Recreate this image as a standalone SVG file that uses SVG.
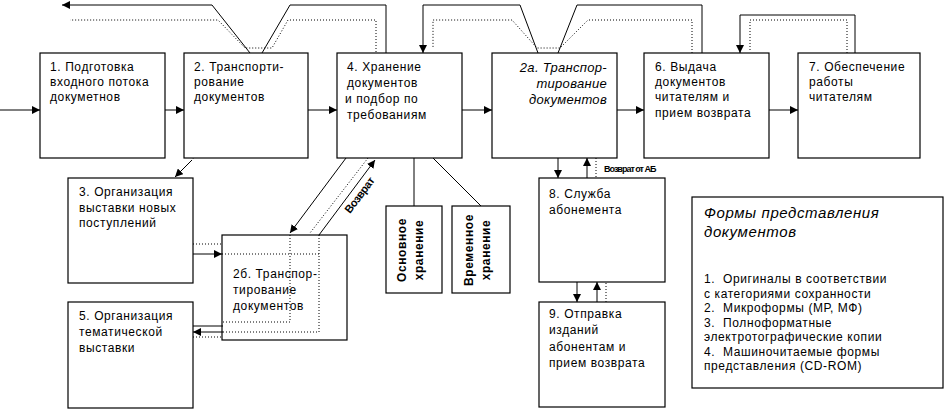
<svg xmlns="http://www.w3.org/2000/svg" width="945" height="411" viewBox="0 0 945 411">
<defs>
<marker id="a" viewBox="0 0 10 10" refX="10" refY="5" markerWidth="8" markerHeight="8" markerUnits="userSpaceOnUse" orient="auto"><path d="M0,0L10,5L0,10z" fill="#000"/></marker>
<style>
.b{fill:#fff;stroke:#000;stroke-width:1.2}
.t{font-family:"Liberation Sans",Arial,sans-serif;font-size:12px;letter-spacing:0.6px;fill:#000}
.i{font-style:italic}
.it{font-style:italic;font-size:13px;letter-spacing:0.3px}
.ft{font-style:italic;font-size:15px;letter-spacing:0.6px}
.bd{font-weight:bold}
.ab{font-weight:bold;font-size:9px;letter-spacing:-1px}
.vz{font-weight:bold;font-size:11px;letter-spacing:-0.5px}
.pre{white-space:pre}
.s{fill:none;stroke:#000;stroke-width:1}
.d{fill:none;stroke:#000;stroke-width:1;stroke-dasharray:1,2}
</style>
</defs>
<rect width="945" height="411" fill="#fff"/>
<g id="connectors">
<path class="s" d="M0,110H40" marker-end="url(#a)"/>
<path class="s" d="M165,110H184" marker-end="url(#a)"/>
<path class="d" d="M184,110H308"/>
<path class="s" d="M308,110H337" marker-end="url(#a)"/>
<path class="s" d="M462,110H492" marker-end="url(#a)"/>
<path class="d" d="M492,110H617"/>
<path class="s" d="M617,110H644" marker-end="url(#a)"/>
<path class="s" d="M769,110H798" marker-end="url(#a)"/>
<path class="s" d="M386,53V5H290L262,53"/>
<path class="s" d="M250,53L212,5H62" marker-end="url(#a)"/>
<path class="d" d="M376,58V20H288L272,48H245L218,20H70"/>
<path class="s" d="M702,53V5H577L558,53"/>
<path class="s" d="M538,53L520,5H423V53" marker-end="url(#a)"/>
<path class="d" d="M692,56V20H588L560,48H537L512,20H433V48"/>
<path class="s" d="M855,53V15H740V53" marker-end="url(#a)"/>
<path class="d" d="M847,53V20H750V50"/>
<path class="d" d="M230,110L192,160"/>
<path class="s" d="M192,160L175,177" marker-end="url(#a)"/>
<path class="s" d="M346,158L290,233" marker-end="url(#a)"/>
<path class="d" d="M368,158L310,233"/>
<path class="s" d="M319,235L375,160" marker-end="url(#a)"/>
<path class="s" d="M414,158V206M433,158L481,206"/>
<path class="d" d="M290,235V322H223"/>
<path class="d" d="M319,235V332H223"/>
<path class="d" d="M193,244H222M222,254H319M193,337H222"/>
<path class="s" d="M193,254H222" marker-end="url(#a)"/>
<path class="s" d="M193,326H223"/>
<path class="s" d="M223,332H193" marker-end="url(#a)"/>
<path class="s" d="M558,158V178" marker-end="url(#a)"/>
<path class="s" d="M587,178V158" marker-end="url(#a)"/>
<path class="d" d="M596,155V182"/>
<path class="s" d="M577,282V302" marker-end="url(#a)"/>
<path class="s" d="M597,302V282" marker-end="url(#a)"/>
<path class="d" d="M606,280V306"/>
<text class="t ab" x="604" y="172">Возврат от АБ</text>
<text class="t vz" transform="translate(350,214) rotate(-53)">Возврат</text>
</g>
<g id="n1"><rect class="b" x="40" y="53" width="125" height="105"/><text class="t" x="50" y="71">1. Подготовка</text><text class="t" x="50" y="86">входного потока</text><text class="t" x="50" y="101">докуметнов</text></g>
<g id="n2"><rect class="b" x="184" y="53" width="124" height="105"/><text class="t" x="194" y="71">2. Транспорти-</text><text class="t" x="194" y="86">рование</text><text class="t" x="194" y="101">документов</text></g>
<g id="n4"><rect class="b" x="337" y="53" width="125" height="105"/><text class="t" x="347" y="71">4. Хранение</text><text class="t" x="347" y="87">документов</text><text class="t" x="345" y="103">и подбор по</text><text class="t" x="347" y="119">требованиям</text></g>
<g id="n2a"><rect class="b" x="492" y="53" width="125" height="105"/><text class="t it" text-anchor="end" x="607" y="72">2а. Транспор-</text><text class="t it" text-anchor="end" x="607" y="88">тирование</text><text class="t it" text-anchor="end" x="607" y="104">документов</text></g>
<g id="n6"><rect class="b" x="644" y="53" width="125" height="105"/><text class="t" x="655" y="71">6. Выдача</text><text class="t" x="655" y="86">документов</text><text class="t" x="655" y="101">читателям и</text><text class="t" x="655" y="117">прием возврата</text></g>
<g id="n7"><rect class="b" x="798" y="53" width="122" height="105"/><text class="t" x="809" y="71">7. Обеспечение</text><text class="t" x="809" y="86">работы</text><text class="t" x="809" y="101">читателям</text></g>
<g id="n3"><rect class="b" x="68" y="178" width="125" height="105"/><text class="t" x="79" y="196">3. Организация</text><text class="t" x="79" y="212">выставки новых</text><text class="t" x="79" y="227">поступлений</text></g>
<g id="n5"><rect class="b" x="68" y="302" width="125" height="106"/><text class="t" x="79" y="320">5. Организация</text><text class="t" x="79" y="336">тематической</text><text class="t" x="79" y="352">выставки</text></g>
<g id="n2b"><rect class="b" x="222" y="235" width="125" height="105" style="fill:none"/><text class="t" x="233" y="278">2б. Транспор-</text><text class="t" x="233" y="294">тирование</text><text class="t" x="233" y="310">документов</text></g>
<g id="nosn"><rect class="b" x="386" y="206" width="56" height="87"/><text class="t bd" text-anchor="middle" transform="translate(406,250) rotate(-90)">Основное</text><text class="t bd" text-anchor="middle" transform="translate(423,250) rotate(-90)">хранение</text></g>
<g id="nvr"><rect class="b" x="452" y="206" width="58" height="87"/><text class="t bd" text-anchor="middle" transform="translate(473,250) rotate(-90)">Временное</text><text class="t bd" text-anchor="middle" transform="translate(490,250) rotate(-90)">хранение</text></g>
<g id="n8"><rect class="b" x="539" y="178" width="126" height="104"/><text class="t" x="549" y="198">8. Служба</text><text class="t" x="549" y="214">абонемента</text></g>
<g id="n9"><rect class="b" x="539" y="302" width="126" height="105"/><text class="t" x="549" y="318">9. Отправка</text><text class="t" x="549" y="334">изданий</text><text class="t" x="549" y="351">абонентам и</text><text class="t" x="549" y="367">прием возврата</text></g>
<g id="forms"><rect class="b" x="692" y="197" width="251" height="191"/>
<text class="t ft" x="704" y="218">Формы представления</text><text class="t ft" x="704" y="237">документов</text>
<text class="t pre" x="704" y="283">1.  Оригиналы в соответствии</text>
<text class="t" x="704" y="298">с категориями сохранности</text>
<text class="t pre" x="704" y="312">2.  Микроформы (МР, МФ)</text>
<text class="t pre" x="704" y="327">3.  Полноформатные</text>
<text class="t" x="704" y="341">электротографические копии</text>
<text class="t pre" x="704" y="356">4.  Машиночитаемые формы</text>
<text class="t" x="704" y="370">представления (CD-ROM)</text>
</g>
</svg>
